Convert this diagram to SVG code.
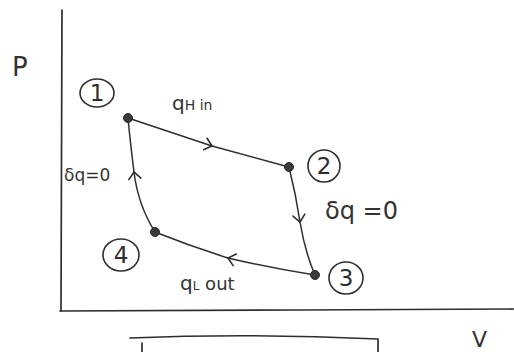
<svg xmlns="http://www.w3.org/2000/svg" width="514" height="352" viewBox="0 0 514 352">
<style>
.ax{fill:none;stroke:#2e2e2e;stroke-width:1.7;stroke-linecap:round}
.edge{fill:none;stroke:#2e2e2e;stroke-width:1.5;stroke-linecap:round;marker-mid:url(#chev)}
.dot{fill:#3a3a3a;stroke:#2a2a2a;stroke-width:1}
.ring{fill:none;stroke:#2e2e2e;stroke-width:1.6}
.num{font-family:"DejaVu Sans",sans-serif;font-size:23px;fill:#2e2e2e;text-anchor:middle}
.lbl{font-family:"DejaVu Sans",sans-serif;fill:#333}
</style>
<defs>
<marker id="chev" markerUnits="userSpaceOnUse" markerWidth="16" markerHeight="16" viewBox="-8 -8 16 16" refX="0" refY="0" orient="auto">
<path d="M-7,-6 L0,0 L-7,6" fill="none" stroke="#2e2e2e" stroke-width="1.6" stroke-linecap="round"/>
</marker>
</defs>
<rect width="514" height="352" fill="#ffffff"/>
<g id="axes">
<path class="ax" d="M62,10 L61,311"/>
<path class="ax" d="M60,311 L300,310 L514,309"/>
<text class="lbl" x="12" y="76" font-size="26">P</text>
<text class="lbl" x="472" y="347" font-size="22">V</text>
</g>
<g id="connectors">
<path class="edge" d="M128,118 L212,146 L289,167"/>
<path class="edge" d="M289,167 Q296,195 300,222 Q305,252 315,275"/>
<path class="edge" d="M315,275 Q270,268 228,258 Q190,246 155,232"/>
<path class="edge" d="M155,232 Q138,205 134,172 Q130,140 128,118"/>
</g>
<g id="node1">
<circle class="dot" cx="128" cy="118" r="4.5"/>
<ellipse class="ring" cx="97" cy="93" rx="17" ry="14"/>
<text class="num" x="97" y="101">1</text>
</g>
<g id="node2">
<circle class="dot" cx="289" cy="167" r="4.5"/>
<ellipse class="ring" cx="324" cy="166" rx="16" ry="16"/>
<text class="num" x="324" y="174">2</text>
</g>
<g id="node3">
<circle class="dot" cx="315" cy="275" r="4.5"/>
<ellipse class="ring" cx="346" cy="278" rx="17" ry="16"/>
<text class="num" x="346" y="286">3</text>
</g>
<g id="node4">
<circle class="dot" cx="155" cy="232" r="4.5"/>
<ellipse class="ring" cx="121" cy="255" rx="18" ry="16"/>
<text class="num" x="121" y="263">4</text>
</g>
<g id="labels">
<text class="lbl" x="172" y="110" font-size="20">q<tspan font-size="14">H in</tspan></text>
<text class="lbl" x="64" y="181" font-size="17">δq=0</text>
<text class="lbl" x="325" y="219" font-size="24">δq =0</text>
<text class="lbl" x="180" y="290" font-size="20">q<tspan font-size="12">L</tspan><tspan font-size="18"> out</tspan></text>
</g>
<g id="box">
<path class="ax" d="M130,338 Q250,333 378,339 L378,352"/>
<path class="ax" d="M142,343 L142,352"/>
</g>
</svg>
